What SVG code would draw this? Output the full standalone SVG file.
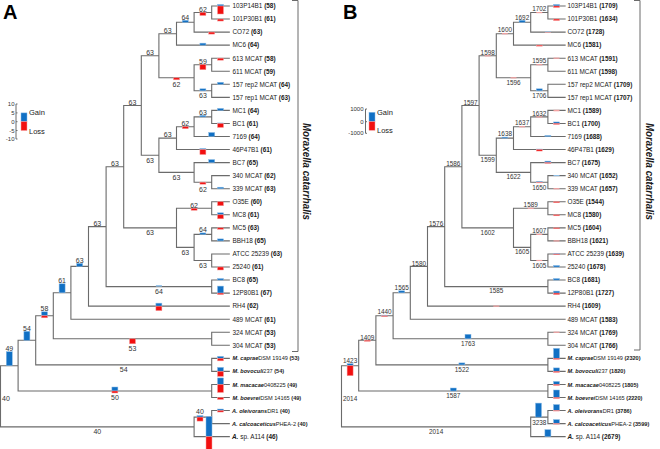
<svg xmlns="http://www.w3.org/2000/svg" xmlns:xlink="http://www.w3.org/1999/xlink" width="660" height="449" viewBox="0 0 660 449">
<style>
.br{fill:none;stroke:#6b6b6b;stroke-width:1.1;stroke-linecap:square}
.bk{fill:none;stroke:#6b6b6b;stroke-width:1}
.g{fill:#1170c4;stroke:#8cbbe6;stroke-width:0.5}
.l{fill:#f21010;stroke:#f5a0a0;stroke-width:0.5}
.pk{fill:#f4a3a3}
.lb{fill:#8fc0ea}
.t{font-family:"Liberation Sans",Arial,sans-serif;font-size:6.4px;fill:#1a1a1a}
.t.s{font-size:5.6px}
.b{font-weight:bold}
.bi{font-weight:bold;font-style:italic}
.na{font-family:"Liberation Sans",Arial,sans-serif;font-size:7px;fill:#333;text-anchor:middle}
.nb{font-family:"Liberation Sans",Arial,sans-serif;font-size:6.4px;fill:#333;text-anchor:middle}
.st{font-family:"Liberation Sans",Arial,sans-serif;font-size:11px;font-weight:bold;font-style:italic;fill:#1a1a1a;text-anchor:middle}
.pl{font-family:"Liberation Sans",Arial,sans-serif;font-size:20px;font-weight:bold;fill:#000}
.lg{font-family:"Liberation Sans",Arial,sans-serif;font-size:7.5px;fill:#1a1a1a}
.ax{font-family:"Liberation Sans",Arial,sans-serif;font-size:6px;fill:#333;text-anchor:end}
</style>
<defs>
<path id="treeA" class="br" vector-effect="non-scaling-stroke" d="M211.7,6V19.05M194.1,12.5V32.1M176.5,22.3V45.15M211.7,58.2V71.25M211.7,84.3V97.35M194.1,64.7V90.8M158.9,33.7V77.8M211.7,110.4V123.45M194.1,116.9V136.5M176.5,126.7V149.55M211.7,175.65V188.7M194.1,162.6V182.2M158.9,138.1V172.4M141.3,55.8V155.3M211.7,201.75V214.8M211.7,227.85V240.9M211.7,253.95V267M194.1,234.4V260.5M176.5,208.3V247.4M123.7,105.5V227.9M211.7,280.05V293.1M106.1,166.7V286.6M88.5,226.6V306.15M70.9,266.4V319.2M211.7,332.25V345.3M53.3,292.8V338.8M211.7,358.35V371.4M35.7,315.8V364.9M211.7,384.45V397.5M18.1,340.3V391M211.7,410.55V423.6M194.1,417.1V436.65M0.5,365.7V426.9M194.1,12.5H211.7M176.5,22.3H194.1M158.9,33.7H176.5M194.1,64.7H211.7M194.1,90.8H211.7M158.9,77.8H194.1M141.3,55.8H158.9M194.1,116.9H211.7M176.5,126.7H194.1M158.9,138.1H176.5M194.1,182.2H211.7M158.9,172.4H194.1M141.3,155.3H158.9M123.7,105.5H141.3M176.5,208.3H211.7M194.1,234.4H211.7M194.1,260.5H211.7M176.5,247.4H194.1M123.7,227.9H176.5M106.1,166.7H123.7M106.1,286.6H211.7M88.5,226.6H106.1M70.9,266.4H88.5M53.3,292.8H70.9M53.3,338.8H211.7M35.7,315.8H53.3M35.7,364.9H211.7M18.1,340.3H35.7M18.1,391H211.7M0.5,365.7H18.1M194.1,417.1H211.7M0.5,426.9H194.1M211.7,6H229.3M211.7,19.05H229.3M194.1,32.1H229.3M176.5,45.15H229.3M211.7,58.2H229.3M211.7,71.25H229.3M211.7,84.3H229.3M211.7,97.35H229.3M211.7,110.4H229.3M211.7,123.45H229.3M194.1,136.5H229.3M176.5,149.55H229.3M194.1,162.6H229.3M211.7,175.65H229.3M211.7,188.7H229.3M211.7,201.75H229.3M211.7,214.8H229.3M211.7,227.85H229.3M211.7,240.9H229.3M211.7,253.95H229.3M211.7,267H229.3M211.7,280.05H229.3M211.7,293.1H229.3M88.5,306.15H229.3M70.9,319.2H229.3M211.7,332.25H229.3M211.7,345.3H229.3M211.7,358.35H229.3M211.7,371.4H229.3M211.7,384.45H229.3M211.7,397.5H229.3M211.7,410.55H229.3M211.7,423.6H229.3M194.1,436.65H229.3"/>
</defs>

<g id="connectors">
<use id="treeA-lines" xlink:href="#treeA" href="#treeA"/>
<use id="treeB-lines" xlink:href="#treeA" href="#treeA" transform="matrix(0.97727 0 0 1 341.011 0)"/>
<path class="bk" d="M292,0.5H298V351.5H292"/>
<path class="bk" d="M634,0.5H640V350H634"/>
</g>

<!-- Panel A -->
<g id="panelA-title"><text class="pl" x="3" y="19.3">A</text></g>
<g id="legendA">
<path class="bk" d="M16,104V139M16,104H17.5M16,112.9H17.5M16,121.7H17.5M16,130.5H17.5M16,139H17.5" stroke-width="0.6"/>
<text class="ax" x="14.5" y="105.9">10</text><text class="ax" x="14.5" y="115">5</text><text class="ax" x="14.5" y="123.8">0</text><text class="ax" x="14.5" y="132.6">-5</text><text class="ax" x="14.5" y="141.1">-10</text>
<rect class="g" x="21" y="112.9" width="6" height="8.8"/><rect class="l" x="21" y="121.7" width="6" height="8.8"/>
<text class="lg" x="29" y="114.8">Gain</text><text class="lg" x="29" y="133.5">Loss</text>
</g>
<g id="A-clade"><text class="st" transform="translate(302.5,171.5) rotate(90)" textLength="97" lengthAdjust="spacingAndGlyphs">Moraxella catarrhalis</text></g>

<g id="A-leaves">
<g id="A-103P14B1"><rect class="g" x="217.5" y="4.5" width="6" height="1.5"/><rect class="l" x="217.5" y="6" width="6" height="8"/><text class="t" x="232.5" y="8.3">103P14B1 <tspan class="b">(58)</tspan></text></g>
<g id="A-101P30B1"><rect class="l" x="217.5" y="19.05" width="6" height="2"/><text class="t" x="232.5" y="21.35">101P30B1 <tspan class="b">(61)</tspan></text></g>
<g id="A-CO72"><rect class="l" x="208.7" y="32.1" width="6" height="2"/><text class="t" x="232.5" y="34.4">CO72 <tspan class="b">(63)</tspan></text></g>
<g id="A-MC6"><rect class="g" x="199.9" y="43.15" width="6" height="2"/><text class="t" x="232.5" y="47.45">MC6 <tspan class="b">(64)</tspan></text></g>
<g id="A-613MCAT"><rect class="l" x="217.5" y="58.2" width="6" height="2"/><text class="t" x="232.5" y="60.5">613 MCAT <tspan class="b">(58)</tspan></text></g>
<g id="A-611MCAT"><text class="t" x="232.5" y="73.55">611 MCAT <tspan class="b">(59)</tspan></text></g>
<g id="A-157rep2"><rect class="g" x="217.5" y="82.3" width="6" height="2"/><text class="t" x="232.5" y="86.6">157 rep2 MCAT <tspan class="b">(64)</tspan></text></g>
<g id="A-157rep1"><text class="t" x="232.5" y="99.65">157 rep1 MCAT <tspan class="b">(63)</tspan></text></g>
<g id="A-MC1"><rect class="g" x="217.5" y="108.4" width="6" height="2"/><text class="t" x="232.5" y="112.7">MC1 <tspan class="b">(64)</tspan></text></g>
<g id="A-BC1"><rect class="g" x="217.5" y="122.95" width="6" height="0.5"/><rect class="l" x="217.5" y="123.45" width="6" height="4"/><text class="t" x="232.5" y="125.75">BC1 <tspan class="b">(61)</tspan></text></g>
<g id="A-7169"><rect class="g" x="208.7" y="132.5" width="6" height="4"/><text class="t" x="232.5" y="138.8">7169 <tspan class="b">(64)</tspan></text></g>
<g id="A-46P47B1"><rect class="g" x="199.9" y="148.55" width="6" height="1"/><rect class="l" x="199.9" y="149.55" width="6" height="5"/><text class="t" x="232.5" y="151.85">46P47B1 <tspan class="b">(61)</tspan></text></g>
<g id="A-BC7"><rect class="g" x="208.7" y="159.6" width="6" height="3"/><text class="t" x="232.5" y="164.9">BC7 <tspan class="b">(65)</tspan></text></g>
<g id="A-340MCAT"><text class="t" x="232.5" y="177.95">340 MCAT <tspan class="b">(62)</tspan></text></g>
<g id="A-339MCAT"><rect class="g" x="217.5" y="187.2" width="6" height="1.5"/><text class="t" x="232.5" y="191">339 MCAT <tspan class="b">(63)</tspan></text></g>
<g id="A-O35E"><rect class="l" x="217.5" y="201.75" width="6" height="4"/><text class="t" x="232.5" y="204.05">O35E <tspan class="b">(60)</tspan></text></g>
<g id="A-MC8"><rect class="g" x="217.5" y="212.8" width="6" height="2"/><rect class="l" x="217.5" y="214.8" width="6" height="4"/><text class="t" x="232.5" y="217.1">MC8 <tspan class="b">(61)</tspan></text></g>
<g id="A-MC5"><rect class="l" x="217.5" y="227.85" width="6" height="1.5"/><text class="t" x="232.5" y="230.15">MC5 <tspan class="b">(63)</tspan></text></g>
<g id="A-BBH18"><rect class="g" x="217.5" y="238.9" width="6" height="2"/><text class="t" x="232.5" y="243.2">BBH18 <tspan class="b">(65)</tspan></text></g>
<g id="A-ATCC25239"><text class="t" x="232.5" y="256.25">ATCC 25239 <tspan class="b">(63)</tspan></text></g>
<g id="A-25240"><rect class="l" x="217.5" y="267" width="6" height="3"/><text class="t" x="232.5" y="269.3">25240 <tspan class="b">(61)</tspan></text></g>
<g id="A-BC8"><rect class="g" x="217.5" y="278.55" width="6" height="1.5"/><text class="t" x="232.5" y="282.35">BC8 <tspan class="b">(65)</tspan></text></g>
<g id="A-12P80B1"><rect class="g" x="217.5" y="286.1" width="6" height="7"/><rect class="l" x="217.5" y="293.1" width="6" height="1.5"/><text class="t" x="232.5" y="295.4">12P80B1 <tspan class="b">(67)</tspan></text></g>
<g id="A-RH4"><rect class="g" x="155.9" y="303.15" width="6" height="3"/><rect class="l" x="155.9" y="306.15" width="6" height="4.5"/><text class="t" x="232.5" y="308.45">RH4 <tspan class="b">(62)</tspan></text></g>
<g id="A-489MCAT"><text class="t" x="232.5" y="321.5">489 MCAT <tspan class="b">(61)</tspan></text></g>
<g id="A-324MCAT"><text class="t" x="232.5" y="334.55">324 MCAT <tspan class="b">(53)</tspan></text></g>
<g id="A-304MCAT"><text class="t" x="232.5" y="347.6">304 MCAT <tspan class="b">(53)</tspan></text></g>
<g id="A-Mcaprae"><rect class="g" x="217.5" y="356.35" width="6" height="2"/><rect class="l" x="217.5" y="358.35" width="6" height="2.5"/><text class="t s" x="232.5" y="360.4"><tspan class="bi">M. caprae</tspan>DSM 19149 <tspan class="b">(53)</tspan></text></g>
<g id="A-Mbovoculi"><rect class="g" x="217.5" y="367.4" width="6" height="4"/><rect class="l" x="217.5" y="371.4" width="6" height="5"/><text class="t s" x="232.5" y="373.45"><tspan class="bi">M. bovoculi</tspan>237 <tspan class="b">(54)</tspan></text></g>
<g id="A-Mmacacae"><rect class="g" x="217.5" y="377.95" width="6" height="6.5"/><rect class="l" x="217.5" y="384.45" width="6" height="8"/><text class="t s" x="232.5" y="386.5"><tspan class="bi">M. macacae</tspan>0408225 <tspan class="b">(49)</tspan></text></g>
<g id="A-Mboevrei"><rect class="l" x="217.5" y="397.5" width="6" height="2"/><text class="t s" x="232.5" y="399.55"><tspan class="bi">M. boevrei</tspan>DSM 14165 <tspan class="b">(49)</tspan></text></g>
<g id="A-Aoleivorans"><rect class="g" x="217.5" y="409.05" width="6" height="1.5"/><rect class="l" x="217.5" y="410.55" width="6" height="1.5"/><text class="t s" x="232" y="412.6"><tspan class="bi">A. oleivorans</tspan>DR1 <tspan class="b">(40)</tspan></text></g>
<g id="A-Acalcoaceticus"><text class="t s" x="232" y="425.65"><tspan class="bi">A. calcoaceticus</tspan>PHEA-2 <tspan class="b">(40)</tspan></text></g>
<g id="A-AspA114"><rect class="g" x="206" y="416.65" width="6" height="20"/><rect class="l" x="206" y="436.65" width="6" height="13"/><text class="t" x="232" y="438.95"><tspan class="bi">A.</tspan> sp. A114 <tspan class="b">(46)</tspan></text></g>
</g>

<g id="A-internal">
<g id="A-n-a"><rect class="l" x="199.9" y="12.5" width="6" height="3"/><text class="na" x="202.9" y="11.8">62</text></g>
<g id="A-n-b"><rect class="g" x="182.3" y="20.3" width="6" height="2"/><text class="na" x="185.3" y="19.6">64</text></g>
<g id="A-n-c"><text class="na" x="167.7" y="33">63</text></g>
<g id="A-n-g"><text class="na" x="150.1" y="55.1">63</text></g>
<g id="A-n-f"><rect class="l" x="173.5" y="77.8" width="6" height="2"/><text class="na" x="176.5" y="87.1">62</text></g>
<g id="A-n-d"><rect class="l" x="199.9" y="64.7" width="6" height="5"/><text class="na" x="202.9" y="64">59</text></g>
<g id="A-n-e"><rect class="g" x="199.9" y="88.8" width="6" height="2"/><text class="na" x="202.9" y="98.1">63</text></g>
<g id="A-n-n"><text class="na" x="132.5" y="104.8">63</text></g>
<g id="A-n-h"><rect class="g" x="199.9" y="115.4" width="6" height="1.5"/><text class="na" x="202.9" y="114.7">63</text></g>
<g id="A-n-i"><rect class="l" x="182.3" y="126.7" width="6" height="2"/><text class="na" x="185.3" y="126">62</text></g>
<g id="A-n-j"><text class="na" x="167.7" y="137.4">63</text></g>
<g id="A-n-m"><text class="na" x="150.1" y="162.6">63</text></g>
<g id="A-n-l"><text class="na" x="176.5" y="179.7">63</text></g>
<g id="A-n-k"><rect class="l" x="199.9" y="182.2" width="6" height="2"/><text class="na" x="202.9" y="191.5">62</text></g>
<g id="A-n-t"><text class="na" x="114.9" y="166">63</text></g>
<g id="A-n-s"><text class="na" x="150.1" y="235.2">63</text></g>
<g id="A-n-o"><rect class="l" x="191.1" y="208.3" width="6" height="2"/><text class="na" x="194.1" y="207.6">62</text></g>
<g id="A-n-r"><text class="na" x="185.3" y="254.7">63</text></g>
<g id="A-n-p"><rect class="g" x="199.9" y="232.9" width="6" height="1.5"/><text class="na" x="202.9" y="232.2">64</text></g>
<g id="A-n-q"><text class="na" x="202.9" y="267.8">63</text></g>
<g id="A-n-v"><text class="na" x="97.3" y="225.9">63</text></g>
<g id="A-n-u"><rect class="lb" x="155.9" y="285.1" width="6" height="1.5"/><text class="na" x="158.9" y="293.9">64</text></g>
<g id="A-n-w"><rect class="g" x="76.7" y="263.4" width="6" height="3"/><text class="na" x="79.7" y="262.7">63</text></g>
<g id="A-n-x"><rect class="g" x="59.1" y="283.8" width="6" height="9"/><text class="na" x="62.1" y="283.1">61</text></g>
<g id="A-n-z"><rect class="g" x="41.5" y="311.8" width="6" height="4"/><rect class="l" x="41.5" y="315.8" width="6" height="2"/><text class="na" x="44.5" y="311.1">58</text></g>
<g id="A-n-y"><rect class="l" x="129.5" y="338.8" width="6" height="5"/><text class="na" x="132.5" y="351.1">53</text></g>
<g id="A-n-ab"><rect class="g" x="23.9" y="331.3" width="6" height="9"/><text class="na" x="26.9" y="330.6">54</text></g>
<g id="A-n-aa"><text class="na" x="123.7" y="372.2">54</text></g>
<g id="A-n-ad"><rect class="g" x="6.3" y="351.7" width="6" height="14"/><text class="na" x="9.3" y="351">49</text></g>
<g id="A-n-ac"><rect class="g" x="111.9" y="387" width="6" height="4"/><rect class="l" x="111.9" y="391" width="6" height="2"/><text class="na" x="114.9" y="400.3">50</text></g>
<g id="A-root"><text class="na" x="6" y="401">40</text></g>
<g id="A-n-af"><text class="na" x="97.3" y="434.2">40</text></g>
<g id="A-n-ae"><rect class="g" x="197" y="415.6" width="6" height="1.5"/><rect class="l" x="197" y="417.1" width="6" height="4"/><text class="na" x="200" y="413.9">40</text></g>
</g>

<!-- Panel B -->
<g id="panelB-title"><text class="pl" x="343" y="19.3">B</text></g>
<g id="legendB">
<path class="bk" d="M365.5,109V133.3M365.5,109H367M365.5,121.7H367M365.5,133.3H367" stroke-width="0.6"/>
<text class="ax" x="363.5" y="111.1">1000</text><text class="ax" x="363.5" y="123.8">0</text><text class="ax" x="363.5" y="135.4">-1000</text>
<rect class="g" x="369" y="112.3" width="6" height="9.4"/><rect class="l" x="369" y="121.7" width="6" height="8.6"/>
<text class="lg" x="377" y="114.5">Gain</text><text class="lg" x="377" y="133">Loss</text>
</g>
<g id="B-clade"><text class="st" transform="translate(646,171.5) rotate(90)" textLength="97" lengthAdjust="spacingAndGlyphs">Moraxella catarrhalis</text></g>

<g id="B-leaves">
<g id="B-103P14B1"><rect class="g" x="553.5" y="4.5" width="6" height="1.5"/><rect class="l" x="553.5" y="6" width="6" height="1.5"/><text class="t" x="567.5" y="8.3">103P14B1 <tspan class="b">(1709)</tspan></text></g>
<g id="B-101P30B1"><rect class="l" x="553.5" y="19.05" width="6" height="1.5"/><text class="t" x="567.5" y="21.35">101P30B1 <tspan class="b">(1634)</tspan></text></g>
<g id="B-CO72"><rect class="lb" x="544.9" y="31.4" width="6" height="0.7"/><rect class="pk" x="544.9" y="32.1" width="6" height="0.7"/><text class="t" x="567.5" y="34.4">CO72 <tspan class="b">(1728)</tspan></text></g>
<g id="B-MC6"><rect class="l" x="536.3" y="45.15" width="6" height="1"/><text class="t" x="567.5" y="47.45">MC6 <tspan class="b">(1581)</tspan></text></g>
<g id="B-613MCAT"><rect class="pk" x="553.5" y="57.6" width="6" height="1.2"/><text class="t" x="567.5" y="60.5">613 MCAT <tspan class="b">(1591)</tspan></text></g>
<g id="B-611MCAT"><text class="t" x="567.5" y="73.55">611 MCAT <tspan class="b">(1598)</tspan></text></g>
<g id="B-157rep2"><text class="t" x="567.5" y="86.6">157 rep2 MCAT <tspan class="b">(1709)</tspan></text></g>
<g id="B-157rep1"><text class="t" x="567.5" y="99.65">157 rep1 MCAT <tspan class="b">(1707)</tspan></text></g>
<g id="B-MC1"><rect class="pk" x="553.5" y="109.8" width="6" height="1.5"/><text class="t" x="567.5" y="112.7">MC1 <tspan class="b">(1589)</tspan></text></g>
<g id="B-BC1"><rect class="g" x="553.5" y="121.95" width="6" height="1.5"/><rect class="l" x="553.5" y="123.45" width="6" height="1"/><text class="t" x="567.5" y="125.75">BC1 <tspan class="b">(1700)</tspan></text></g>
<g id="B-7169"><rect class="g" x="544.9" y="135.5" width="6" height="1"/><text class="t" x="567.5" y="138.8">7169 <tspan class="b">(1688)</tspan></text></g>
<g id="B-46P47B1"><rect class="g" x="536.3" y="149.05" width="6" height="0.5"/><rect class="l" x="536.3" y="149.55" width="6" height="1.5"/><text class="t" x="567.5" y="151.85">46P47B1 <tspan class="b">(1629)</tspan></text></g>
<g id="B-BC7"><rect class="g" x="544.9" y="161.1" width="6" height="1.5"/><rect class="l" x="544.9" y="162.6" width="6" height="0.7"/><text class="t" x="567.5" y="164.9">BC7 <tspan class="b">(1675)</tspan></text></g>
<g id="B-340MCAT"><rect class="lb" x="553.5" y="175.05" width="6" height="1"/><text class="t" x="567.5" y="177.95">340 MCAT <tspan class="b">(1652)</tspan></text></g>
<g id="B-339MCAT"><rect class="pk" x="553.5" y="188.1" width="6" height="1.2"/><text class="t" x="567.5" y="191">339 MCAT <tspan class="b">(1657)</tspan></text></g>
<g id="B-O35E"><rect class="l" x="553.5" y="201.75" width="6" height="1"/><text class="t" x="567.5" y="204.05">O35E <tspan class="b">(1544)</tspan></text></g>
<g id="B-MC8"><rect class="l" x="553.5" y="214.8" width="6" height="1"/><text class="t" x="567.5" y="217.1">MC8 <tspan class="b">(1580)</tspan></text></g>
<g id="B-MC5"><rect class="l" x="553.5" y="227.85" width="6" height="0.8"/><text class="t" x="567.5" y="230.15">MC5 <tspan class="b">(1604)</tspan></text></g>
<g id="B-BBH18"><rect class="pk" x="553.5" y="240.3" width="6" height="1.2"/><text class="t" x="567.5" y="243.2">BBH18 <tspan class="b">(1621)</tspan></text></g>
<g id="B-ATCC25239"><rect class="g" x="553.5" y="253.35" width="6" height="0.6"/><rect class="l" x="553.5" y="253.95" width="6" height="0.6"/><text class="t" x="567.5" y="256.25">ATCC 25239 <tspan class="b">(1639)</tspan></text></g>
<g id="B-25240"><rect class="g" x="553.5" y="265.5" width="6" height="1.5"/><text class="t" x="567.5" y="269.3">25240 <tspan class="b">(1678)</tspan></text></g>
<g id="B-BC8"><rect class="g" x="553.5" y="278.55" width="6" height="1.5"/><text class="t" x="567.5" y="282.35">BC8 <tspan class="b">(1681)</tspan></text></g>
<g id="B-12P80B1"><rect class="g" x="553.5" y="291.1" width="6" height="2"/><rect class="l" x="553.5" y="293.1" width="6" height="1.5"/><text class="t" x="567.5" y="295.4">12P80B1 <tspan class="b">(1727)</tspan></text></g>
<g id="B-RH4"><rect class="pk" x="493.3" y="305.55" width="6" height="1.2"/><text class="t" x="567.5" y="308.45">RH4 <tspan class="b">(1609)</tspan></text></g>
<g id="B-489MCAT"><text class="t" x="567.5" y="321.5">489 MCAT <tspan class="b">(1583)</tspan></text></g>
<g id="B-324MCAT"><rect class="pk" x="553.5" y="331.65" width="6" height="1.2"/><text class="t" x="567.5" y="334.55">324 MCAT <tspan class="b">(1769)</tspan></text></g>
<g id="B-304MCAT"><text class="t" x="567.5" y="347.6">304 MCAT <tspan class="b">(1766)</tspan></text></g>
<g id="B-Mcaprae"><rect class="g" x="553.5" y="348.35" width="6" height="10"/><rect class="l" x="553.5" y="358.35" width="6" height="1"/><text class="t s" x="567.5" y="360.4"><tspan class="bi">M. caprae</tspan>DSM 19149 <tspan class="b">(2320)</tspan></text></g>
<g id="B-Mbovoculi"><rect class="g" x="553.5" y="367.9" width="6" height="3.5"/><rect class="l" x="553.5" y="371.4" width="6" height="1"/><text class="t s" x="567.5" y="373.45"><tspan class="bi">M. bovoculi</tspan>237 <tspan class="b">(1820)</tspan></text></g>
<g id="B-Mmacacae"><rect class="g" x="553.5" y="381.45" width="6" height="3"/><rect class="l" x="553.5" y="384.45" width="6" height="1"/><text class="t s" x="567.5" y="386.5"><tspan class="bi">M. macacae</tspan>0408225 <tspan class="b">(1805)</tspan></text></g>
<g id="B-Mboevrei"><rect class="g" x="553.5" y="390" width="6" height="7.5"/><rect class="l" x="553.5" y="397.5" width="6" height="1"/><text class="t s" x="567.5" y="399.55"><tspan class="bi">M. boevrei</tspan>DSM 14165 <tspan class="b">(2220)</tspan></text></g>
<g id="B-Aoleivorans"><rect class="g" x="553.5" y="404.55" width="6" height="6"/><rect class="l" x="553.5" y="410.55" width="6" height="0.5"/><text class="t s" x="567.5" y="412.6"><tspan class="bi">A. oleivorans</tspan>DR1 <tspan class="b">(3786)</tspan></text></g>
<g id="B-Acalcoaceticus"><rect class="g" x="553.5" y="419.6" width="6" height="4"/><rect class="l" x="553.5" y="423.6" width="6" height="0.5"/><text class="t s" x="567.5" y="425.65"><tspan class="bi">A. calcoaceticus</tspan>PHEA-2 <tspan class="b">(3599)</tspan></text></g>
<g id="B-AspA114"><rect class="g" x="544.9" y="429.65" width="6" height="7"/><text class="t" x="567.5" y="438.95"><tspan class="bi">A.</tspan> sp. A114 <tspan class="b">(2679)</tspan></text></g>
</g>

<g id="B-internal">
<g id="B-n-a"><rect class="pk" x="536.3" y="12" width="6" height="1.2"/><text class="nb" x="539.3" y="11.3">1702</text></g>
<g id="B-n-b"><rect class="g" x="519.1" y="20.3" width="6" height="2"/><text class="nb" x="522.1" y="19.6">1692</text></g>
<g id="B-n-c"><rect class="pk" x="501.9" y="33.1" width="6" height="1.2"/><text class="nb" x="504.9" y="32.4">1600</text></g>
<g id="B-n-g"><rect class="pk" x="484.7" y="55.2" width="6" height="1.2"/><text class="nb" x="487.7" y="54.5">1598</text></g>
<g id="B-n-f"><rect class="pk" x="510.5" y="77.2" width="6" height="1.2"/><text class="nb" x="513.5" y="85.2">1596</text></g>
<g id="B-n-d"><rect class="pk" x="536.3" y="64.1" width="6" height="1.2"/><text class="nb" x="539.3" y="63.4">1595</text></g>
<g id="B-n-e"><rect class="g" x="536.3" y="88.8" width="6" height="2"/><text class="nb" x="539.3" y="97.6">1706</text></g>
<g id="B-n-n"><text class="nb" x="470.5" y="104.8">1597</text></g>
<g id="B-n-h"><rect class="pk" x="536.3" y="116.3" width="6" height="1.2"/><text class="nb" x="539.3" y="115.6">1632</text></g>
<g id="B-n-i"><rect class="pk" x="519.1" y="126.1" width="6" height="1.2"/><text class="nb" x="522.1" y="125.4">1637</text></g>
<g id="B-n-j"><rect class="g" x="501.9" y="137.1" width="6" height="1"/><text class="nb" x="504.9" y="136.4">1638</text></g>
<g id="B-n-m"><text class="nb" x="487.7" y="162.1">1599</text></g>
<g id="B-n-l"><text class="nb" x="513.5" y="179.2">1622</text></g>
<g id="B-n-k"><rect class="g" x="536.3" y="181.5" width="6" height="0.7"/><rect class="l" x="536.3" y="182.2" width="6" height="0.7"/><text class="nb" x="539.3" y="189.7">1650</text></g>
<g id="B-n-t"><text class="nb" x="453.3" y="166">1586</text></g>
<g id="B-n-s"><text class="nb" x="487.7" y="234.7">1602</text></g>
<g id="B-n-o"><rect class="pk" x="527.7" y="207.7" width="6" height="1.2"/><text class="nb" x="530.7" y="207">1589</text></g>
<g id="B-n-r"><text class="nb" x="522.1" y="254.2">1605</text></g>
<g id="B-n-p"><rect class="pk" x="536.3" y="233.8" width="6" height="1.2"/><text class="nb" x="539.3" y="233.1">1607</text></g>
<g id="B-n-q"><rect class="pk" x="536.3" y="259.9" width="6" height="1.2"/><text class="nb" x="539.3" y="267.9">1605</text></g>
<g id="B-n-v"><text class="nb" x="436.1" y="225.9">1576</text></g>
<g id="B-n-u"><text class="nb" x="496.3" y="293.4">1585</text></g>
<g id="B-n-w"><text class="nb" x="418.9" y="265.7">1580</text></g>
<g id="B-n-x"><rect class="g" x="398.7" y="290.8" width="6" height="2"/><text class="nb" x="401.7" y="290.1">1565</text></g>
<g id="B-n-z"><rect class="g" x="381.5" y="315.1" width="6" height="0.7"/><rect class="l" x="381.5" y="315.8" width="6" height="0.7"/><text class="nb" x="384.5" y="314.4">1440</text></g>
<g id="B-n-y"><rect class="g" x="465" y="334.3" width="6" height="4.5"/><text class="nb" x="468" y="345.6">1763</text></g>
<g id="B-n-ab"><rect class="l" x="364.3" y="340.3" width="6" height="1"/><text class="nb" x="367.3" y="339.6">1409</text></g>
<g id="B-n-aa"><rect class="g" x="458.9" y="362.9" width="6" height="2"/><text class="nb" x="461.9" y="371.7">1522</text></g>
<g id="B-n-ad"><rect class="g" x="347.1" y="363.7" width="6" height="2"/><rect class="l" x="347.1" y="365.7" width="6" height="10"/><text class="nb" x="350.1" y="363">1423</text></g>
<g id="B-n-ac"><rect class="g" x="450.3" y="388" width="6" height="3"/><text class="nb" x="453.3" y="397.8">1587</text></g>
<g id="B-root"><text class="nb" x="350.1" y="401">2014</text></g>
<g id="B-n-af"><text class="nb" x="436.1" y="433.7">2014</text></g>
<g id="B-n-ae"><rect class="g" x="535.5" y="403.1" width="6" height="14"/><text class="nb" x="539.3" y="424.5">3238</text></g>
</g>
</svg>
